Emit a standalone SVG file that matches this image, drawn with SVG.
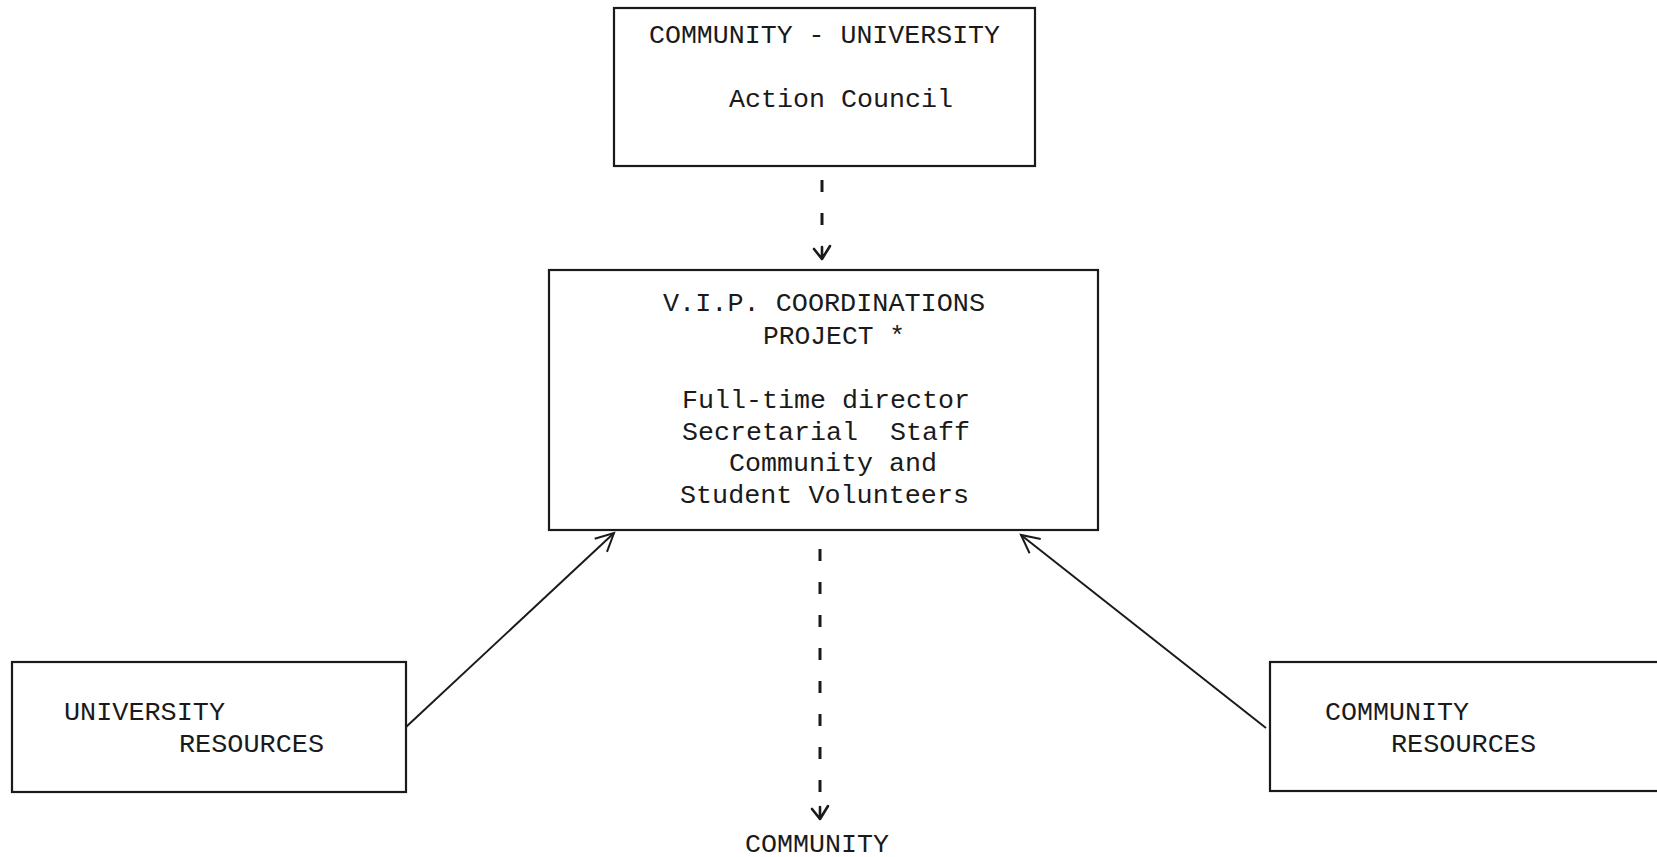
<svg xmlns="http://www.w3.org/2000/svg" width="1657" height="857" viewBox="0 0 1657 857">
<style>
.box{fill:none;stroke:#1a1a1a;stroke-width:2.2}
.t{font-family:"Liberation Mono","Courier New",monospace;font-size:25px;fill:#1a1a1a;white-space:pre}
.solid{fill:none;stroke:#1a1a1a;stroke-width:2}
.dash{fill:none;stroke:#1a1a1a;stroke-width:3;stroke-dasharray:12 21}
.head{fill:none;stroke:#1a1a1a;stroke-width:2.6;stroke-linecap:round;stroke-linejoin:round}
</style>
<defs>
<marker id="open" markerWidth="24" markerHeight="24" refX="20" refY="12" orient="auto" markerUnits="userSpaceOnUse">
<path d="M2,3 L20,12 L2,21" fill="none" stroke="#1a1a1a" stroke-width="2"/>
</marker>
</defs>
<rect width="1657" height="857" fill="#ffffff"/>
<g id="council">
<rect class="box" x="614" y="8" width="421" height="158"/>
<text class="t" x="649" y="43" textLength="351" lengthAdjust="spacingAndGlyphs">COMMUNITY - UNIVERSITY</text>
<text class="t" x="729" y="107" textLength="224" lengthAdjust="spacingAndGlyphs">Action Council</text>
</g>
<g id="project">
<rect class="box" x="549" y="270" width="549" height="260"/>
<text class="t" x="663" y="311" textLength="322" lengthAdjust="spacingAndGlyphs">V.I.P. COORDINATIONS</text>
<text class="t" x="763" y="344" textLength="142" lengthAdjust="spacingAndGlyphs">PROJECT *</text>
<text class="t" x="682" y="408" textLength="288" lengthAdjust="spacingAndGlyphs">Full-time director</text>
<text class="t" x="682" y="440" textLength="288" lengthAdjust="spacingAndGlyphs" xml:space="preserve">Secretarial  Staff</text>
<text class="t" x="729" y="471" textLength="208" lengthAdjust="spacingAndGlyphs">Community and</text>
<text class="t" x="680" y="503" textLength="289" lengthAdjust="spacingAndGlyphs">Student Volunteers</text>
</g>
<g id="university">
<rect class="box" x="12" y="662" width="394" height="130"/>
<text class="t" x="64" y="720" textLength="161" lengthAdjust="spacingAndGlyphs">UNIVERSITY</text>
<text class="t" x="179" y="752" textLength="145" lengthAdjust="spacingAndGlyphs">RESOURCES</text>
</g>
<g id="community-resources">
<rect class="box" x="1270" y="662" width="400" height="129"/>
<text class="t" x="1325" y="720" textLength="144" lengthAdjust="spacingAndGlyphs">COMMUNITY</text>
<text class="t" x="1391" y="752" textLength="145" lengthAdjust="spacingAndGlyphs">RESOURCES</text>
</g>
<g id="community">
<text class="t" x="745" y="852" textLength="144" lengthAdjust="spacingAndGlyphs">COMMUNITY</text>
</g>
<g id="connectors">
<line class="dash" x1="822" y1="180" x2="822" y2="245"/>
<path class="head" d="M814,249 L822,259 L830,246 M822,247 L822,259"/>
<line class="dash" x1="820" y1="549" x2="820" y2="800"/>
<path class="head" d="M812,809 L820,819 L828,806 M820,807 L820,819"/>
<line class="solid" x1="406" y1="727" x2="614" y2="533" marker-end="url(#open)"/>
<line class="solid" x1="1266" y1="728" x2="1021" y2="535" marker-end="url(#open)"/>
</g>
</svg>
